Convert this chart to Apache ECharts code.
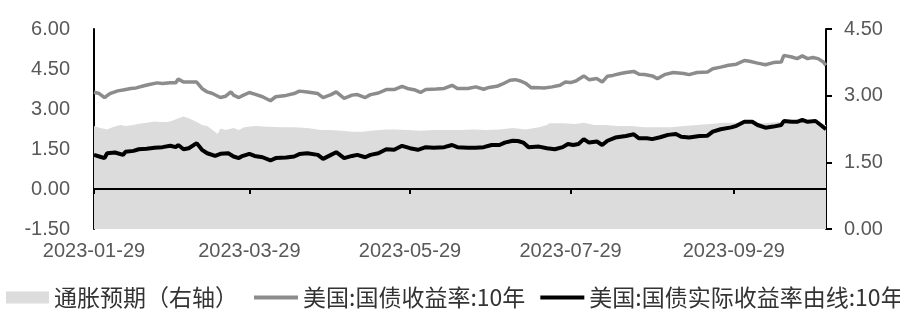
<!DOCTYPE html>
<html><head><meta charset="utf-8">
<script src="https://cdn.jsdelivr.net/npm/echarts@6/dist/echarts.min.js"></script>
<style>html,body{margin:0;padding:0;background:#fff}#c{width:900px;height:335px}</style>
</head><body><div id="c"></div>
<script>
// x-axis span (calendar days) and labelled dates
const startDate = '2023-01-29';
const endDate = '2023-11-03';
const xLabelDates = ['2023-01-29','2023-03-29','2023-05-29','2023-07-29','2023-09-29'];

// series names
const nameBreakeven = '通胀预期（右轴）';
const nameNominal = '美国:国债收益率:10年';
const nameReal = '美国:国债实际收益率由线:10年';

// 美国:国债收益率:10年 (left axis)
const nominal = [
['01-29',3.63],['01-31',3.58],['02-02',3.43],['02-04',3.58],['02-07',3.68],['02-09',3.71],['02-12',3.77],['02-14',3.79],
['02-17',3.87],['02-19',3.92],['02-22',3.98],['02-24',3.96],['02-27',3.98],['03-01',3.98],['03-02',4.12],['03-04',4.01],
['03-06',4.01],['03-09',4.01],['03-11',3.77],['03-13',3.64],['03-15',3.58],['03-18',3.43],['03-20',3.48],['03-22',3.64],
['03-23',3.52],['03-25',3.43],['03-26',3.48],['03-29',3.62],['03-31',3.56],['04-03',3.46],['04-06',3.31],['04-08',3.46],
['04-12',3.51],['04-15',3.58],['04-17',3.67],['04-20',3.64],['04-24',3.58],['04-26',3.43],['04-29',3.54],['05-01',3.64],
['05-04',3.40],['05-07',3.52],['05-09',3.54],['05-12',3.43],['05-14',3.54],['05-17',3.60],['05-20',3.73],['05-23',3.73],
['05-26',3.85],['05-28',3.77],['05-31',3.71],['06-02',3.62],['06-04',3.73],['06-08',3.75],['06-11',3.77],['06-14',3.89],
['06-16',3.77],['06-20',3.77],['06-23',3.83],['06-26',3.74],['06-28',3.81],['07-01',3.85],['07-03',3.93],['07-06',4.08],
['07-08',4.10],['07-10',4.05],['07-12',3.96],['07-14',3.80],['07-15',3.81],['07-19',3.79],['07-22',3.83],['07-25',3.89],
['07-27',4.01],['07-29',3.99],['07-31',4.05],['08-03',4.24],['08-05',4.10],['08-08',4.14],['08-10',4.01],['08-12',4.23],
['08-14',4.26],['08-17',4.33],['08-19',4.37],['08-22',4.41],['08-24',4.30],['08-26',4.29],['08-29',4.24],['08-31',4.14],
['09-03',4.30],['09-06',4.37],['09-10',4.33],['09-12',4.29],['09-15',4.37],['09-19',4.39],['09-21',4.51],['09-24',4.57],
['09-27',4.64],['09-30',4.68],['10-03',4.82],['10-05',4.79],['10-08',4.72],['10-11',4.66],['10-14',4.74],['10-17',4.76],
['10-18',5.01],['10-21',4.95],['10-23',4.89],['10-25',4.99],['10-27',4.89],['10-29',4.93],['10-31',4.89],['11-02',4.76],
['11-03',4.64]
];

// 美国:国债实际收益率由线:10年 (left axis)
const real = [
['01-29',1.28],['01-31',1.22],['02-02',1.16],['02-03',1.34],['02-06',1.37],['02-09',1.28],['02-10',1.40],['02-13',1.43],
['02-15',1.49],['02-18',1.51],['02-21',1.55],['02-24',1.57],['02-27',1.62],['03-01',1.57],['03-02',1.65],['03-04',1.49],
['03-06',1.53],['03-09',1.72],['03-11',1.47],['03-13',1.34],['03-16',1.24],['03-18',1.32],['03-21',1.34],['03-23',1.22],
['03-25',1.16],['03-26',1.22],['03-29',1.32],['03-31',1.24],['04-03',1.19],['04-06',1.07],['04-08',1.16],['04-12',1.18],
['04-15',1.22],['04-17',1.31],['04-20',1.34],['04-24',1.28],['04-26',1.13],['04-29',1.28],['05-01',1.38],['05-04',1.16],
['05-07',1.24],['05-09',1.28],['05-12',1.19],['05-14',1.28],['05-17',1.34],['05-20',1.49],['05-23',1.47],['05-26',1.62],
['05-29',1.53],['06-01',1.47],['06-04',1.57],['06-07',1.55],['06-11',1.57],['06-14',1.65],['06-16',1.57],['06-20',1.55],
['06-23',1.55],['06-26',1.57],['06-29',1.65],['07-02',1.65],['07-04',1.74],['07-07',1.81],['07-09',1.80],['07-11',1.74],
['07-13',1.57],['07-17',1.59],['07-20',1.53],['07-23',1.49],['07-26',1.57],['07-28',1.69],['07-30',1.65],['08-01',1.69],
['08-03',1.87],['08-05',1.74],['08-08',1.78],['08-10',1.65],['08-12',1.81],['08-15',1.93],['08-19',1.99],['08-22',2.05],
['08-24',1.90],['08-27',1.90],['08-29',1.87],['09-01',1.94],['09-04',2.03],['09-07',2.06],['09-09',1.96],['09-12',1.93],
['09-16',1.99],['09-19',2.00],['09-21',2.15],['09-24',2.24],['09-28',2.31],['09-30',2.37],['10-03',2.52],['10-06',2.52],
['10-08',2.40],['10-11',2.30],['10-14',2.34],['10-17',2.40],['10-18',2.55],['10-21',2.52],['10-23',2.52],['10-25',2.59],
['10-27',2.52],['10-30',2.55],['11-01',2.40],['11-03',2.24]
];

// 通胀预期 (right axis)
const breakeven = [
['01-29',2.32],['01-31',2.28],['02-03',2.24],['02-05',2.29],['02-08',2.34],['02-10',2.32],['02-13',2.34],['02-15',2.37],
['02-18',2.39],['02-21',2.42],['02-23',2.41],['02-26',2.41],['02-28',2.44],['03-02',2.49],['03-04',2.53],['03-06',2.49],
['03-09',2.41],['03-11',2.34],['03-13',2.32],['03-15',2.23],['03-17',2.14],['03-18',2.26],['03-20',2.23],['03-23',2.27],
['03-25',2.23],['03-27',2.29],['03-31',2.32],['04-05',2.30],['04-10',2.29],['04-15',2.29],['04-20',2.27],['04-25',2.23],
['04-29',2.23],['05-03',2.21],['05-07',2.19],['05-11',2.19],['05-14',2.21],['05-20',2.24],['05-23',2.24],['05-28',2.23],
['06-02',2.21],['06-07',2.23],['06-12',2.23],['06-17',2.23],['06-22',2.24],['06-27',2.23],['07-02',2.24],['07-07',2.27],
['07-12',2.24],['07-17',2.29],['07-20',2.34],['07-21',2.38],['07-26',2.38],['07-31',2.36],['08-03',2.39],['08-07',2.34],
['08-11',2.34],['08-16',2.32],['08-21',2.32],['08-26',2.29],['08-31',2.29],['09-05',2.29],['09-10',2.32],['09-15',2.34],
['09-20',2.36],['09-25',2.39],['09-30',2.39],['10-05',2.38],['10-10',2.38],['10-15',2.40],['10-20',2.42],['10-25',2.40],
['10-30',2.36],['11-03',2.34]
];

// build the daily category list
function buildCategories(s, e) {
  const out = [];
  let t = Date.parse(s + 'T00:00:00Z');
  const end = Date.parse(e + 'T00:00:00Z');
  while (t <= end) { out.push(new Date(t).toISOString().slice(0, 10)); t += 86400000; }
  return out;
}
const categories = buildCategories(startDate, endDate);
function toSeries(pairs) {
  const m = {};
  pairs.forEach(p => { m['2023-' + p[0]] = p[1]; });
  return categories.map(c => (c in m ? m[c] : null));
}
const isLabelDate = (i, v) => xLabelDates.indexOf(v) >= 0;

const axisFont = { fontFamily: 'Liberation Sans, Arial, sans-serif', fontSize: 20, color: '#595959' };
const legendText = { fontFamily: 'Noto Sans CJK SC', fontSize: 23, color: '#333' };

const chart = echarts.init(document.getElementById('c'), null, { renderer: 'canvas' });
chart.setOption({
  animation: false,
  backgroundColor: '#ffffff',
  grid: { left: 94, right: 74, top: 29, bottom: 106, containLabel: false },
  legend: [
    {
      top: 286, left: 6, padding: 0, width: 260,
      itemWidth: 43, itemHeight: 12, itemGap: 17,
      textStyle: legendText,
      data: [{ name: nameBreakeven, icon: 'rect', itemStyle: { color: '#dcdcdc' } }]
    },
    {
      top: 286, left: 254, padding: 0, width: 700,
      itemWidth: 44, itemHeight: 4, itemGap: 15,
      textStyle: legendText,
      data: [
        { name: nameNominal, icon: 'rect', itemStyle: { color: '#8c8c8c' } },
        { name: nameReal, icon: 'rect', itemStyle: { color: '#000' } }
      ]
    }
  ],
  xAxis: [
    {
      type: 'category', data: categories, boundaryGap: false, z: 10,
      axisLine: { onZero: true, onZeroAxisIndex: 0, lineStyle: { color: '#000', width: 2 } },
      axisTick: { show: true, interval: isLabelDate, length: 5, lineStyle: { color: '#000', width: 2 } },
      axisLabel: { show: false },
      splitLine: { show: false }
    },
    {
      type: 'category', data: categories, boundaryGap: false, position: 'bottom',
      axisLine: { show: false, onZero: false },
      axisTick: { show: false },
      axisLabel: Object.assign({ interval: isLabelDate, margin: 12 }, axisFont),
      splitLine: { show: false }
    }
  ],
  yAxis: [
    {
      type: 'value', position: 'left', min: -1.5, max: 6, interval: 1.5,
      axisLine: { show: true, lineStyle: { color: '#000', width: 2 } },
      axisTick: { show: false },
      splitLine: { show: false },
      axisLabel: Object.assign({ margin: 24, formatter: v => v.toFixed(2) }, axisFont)
    },
    {
      type: 'value', position: 'right', min: 0, max: 4.5, interval: 1.5,
      axisLine: { show: true, lineStyle: { color: '#000', width: 2 } },
      axisTick: { show: true, length: 6, lineStyle: { color: '#000', width: 2 } },
      splitLine: { show: false },
      axisLabel: Object.assign({ margin: 18, formatter: v => v.toFixed(2) }, axisFont)
    }
  ],
  series: [
    {
      name: nameBreakeven, type: 'line', xAxisIndex: 0, yAxisIndex: 1,
      data: toSeries(breakeven), connectNulls: true, symbol: 'none', z: 1,
      itemStyle: { color: '#dcdcdc' },
      lineStyle: { width: 0, color: '#dcdcdc' },
      areaStyle: { color: '#dcdcdc', opacity: 1 }
    },
    {
      name: nameNominal, type: 'line', xAxisIndex: 0, yAxisIndex: 0,
      data: toSeries(nominal), connectNulls: true, symbol: 'none', z: 3,
      itemStyle: { color: '#8c8c8c' },
      lineStyle: { width: 3.5, color: '#8c8c8c' }
    },
    {
      name: nameReal, type: 'line', xAxisIndex: 0, yAxisIndex: 0,
      data: toSeries(real), connectNulls: true, symbol: 'none', z: 4,
      itemStyle: { color: '#000' },
      lineStyle: { width: 4, color: '#000' }
    }
  ]
});
</script>
</body></html>
